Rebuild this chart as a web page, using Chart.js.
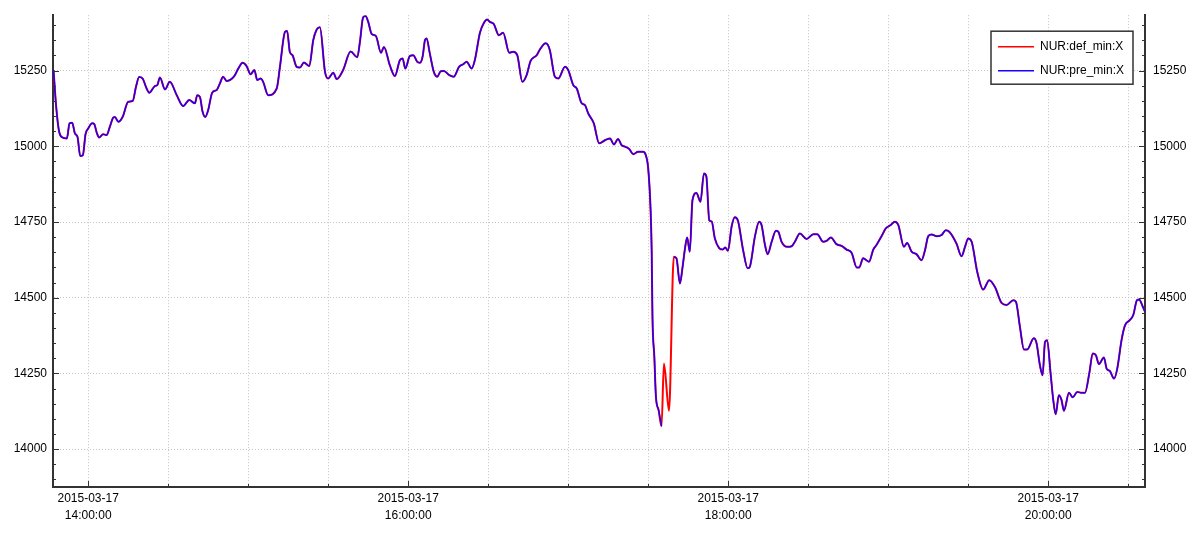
<!DOCTYPE html>
<html><head><meta charset="utf-8">
<script src="https://cdn.jsdelivr.net/npm/chart.js@4"></script>
<style>html,body{margin:0;padding:0;background:#fff;}canvas{display:block;}</style>
</head><body>
<canvas id="c" width="1200" height="534"></canvas>
<script>
// minutes relative to 2015-03-17 14:00:00
const minutes = [
-13,-12,-11,-10,-8,-7,-6,-5,-4,-3,
-2,-1,0,1.5,2.3,3.2,4.1,5.6,6.9,8.1,
9.4,10,11.3,12.9,15,16.7,17.9,19.1,20.4,21.9,
22.9,25,25.9,26.9,28.8,30.6,33.2,35.6,37.9,40,
40.9,41.9,42.9,43.9,45,46.5,48.2,49.4,50.6,51.9,
54.8,56.3,57.9,59.4,60.9,62.3,63.4,64.7,65.6,67.5,
70.7,71.9,73.8,74.6,75.6,76.6,78.2,79.4,80.9,82.9,
84.4,85.7,86.9,88.8,90,91.9,93.2,95.6,98.4,100.9,
101.9,103.1,104,105,106.3,107.9,109.8,110.9,113.1,115,
116.9,117.9,118.9,120.6,121.9,123.4,124.4,125.4,126.3,126.9,
128.1,129.6,130.9,132.2,133.4,135.4,137.1,139.1,140.6,141.9,
143.8,145,146.9,148.4,149.6,150.6,152.1,154,155.6,157.9,
159.4,160.9,162.8,164.4,165.9,168.2,169.4,171.6,173.1,175,
176.3,178.8,180,181.9,183.2,185,186.3,187.5,189.6,191.6,
193.8,195.7,197.1,198.7,200,201.3,202.9,204.4,206.2,208.1,
209.1,210,210.9,211.3,211.6,212.3,212.9,213.9,215,215.9,
217.8,219.6,220.6,221.9,222.9,223.8,224.6,225.6,226.6,228.1,
229.6,230.9,231.8,232.9,233.8,235,236.6,237.9,238.9,239.9,
241.3,242.5,243.7,245.6,247.3,248.1,250,251.6,252.5,253.8,
254.8,256.3,257.9,258.8,260,262.1,263.8,265,266.9,269.4,
271.9,273.4,275.6,276.9,278.5,280.6,282.5,284.4,286.3,288.2,
289.1,290.6,291.5,292.8,294.4,295.6,297.5,299.1,300.9,302.5,
303.8,305.9,307.1,308.8,310.6,312.5,313.8,315,316.3,318.2,
320,321.6,322.9,325.6,327.5,328.8,330,331.3,333.4,335.6,
337.9,340,342.5,344.4,346.9,347.9,349.4,350.9,352.1,354.6,
355.6,356.9,357.9,358.8,359.6,360.9,361.9,362.8,364,365,
365.9,367.8,369.2,370.9,372.5,373.8,375.4,376.7,377.9,379,
380.9,381.9,383.1,384.7,385.9,387.5,388.8,390.6,391.9,393.3,
394.1,395.4,396.6
];
// NUR:pre_min:X (null where only def_min has data)
const preMin = [
15252,15130,15053,15031,15026,15076,15078,15043,15031,14968,
14971,15040,15059,15076,15073,15045,15029,15040,15037,15064,
15095,15097,15081,15097,15147,15150,15196,15229,15224,15191,
15177,15199,15202,15227,15188,15213,15169,15133,15153,15142,
15169,15163,15114,15097,15120,15177,15186,15208,15230,15216,
15232,15257,15276,15265,15238,15252,15219,15224,15213,15169,
15191,15262,15378,15381,15312,15301,15262,15260,15277,15265,
15351,15386,15393,15246,15224,15243,15222,15252,15313,15294,
15345,15426,15430,15411,15371,15364,15309,15328,15268,15232,
15285,15290,15257,15298,15301,15279,15276,15296,15351,15356,
15307,15246,15230,15248,15249,15235,15230,15263,15271,15279,
15257,15285,15375,15408,15419,15411,15404,15367,15375,15309,
15312,15301,15213,15235,15282,15301,15320,15340,15318,15230,
15224,15263,15252,15202,15191,15143,15136,15109,15076,15010,
15020,15026,15006,15024,15004,14999,14991,14974,14982,14982,
14971,14927,14789,14657,14437,14305,14173,14129,14076,null,
null,14635,14630,14547,14602,14663,14699,14652,14822,14846,
14817,14910,14901,14756,14752,14696,14664,14659,14666,14655,
14736,14766,14753,14657,14597,14602,14701,14751,14740,14674,
14644,14685,14721,14718,14685,14668,14670,14685,14712,14694,
14710,14710,14685,14688,14699,14677,14671,14659,14648,14600,
14600,14630,14626,14619,14659,14674,14703,14729,14740,14751,
14740,14668,14681,14652,14644,14624,14657,14703,14709,14703,
14707,14723,14718,14679,14637,14668,14696,14685,14585,14527,
14558,14536,14483,14476,14492,14487,14404,14329,14329,14366,
14351,14277,14244,14354,14360,14250,14162,14115,14178,14162,
14127,14186,14171,14189,14186,14186,14250,14316,14310,14281,
14303,14266,14258,14233,14266,14360,14409,14426,14443,14492,
14494,14472,14448
];
// NUR:def_min:X equals pre_min except where pre_min is missing
const gapMinutes = [215.9, 217.8];
const gapDefValues = [14283, 14127];

const seriesLabels = ['NUR:def_min:X', 'NUR:pre_min:X'];
const dateLabel = '2015-03-17';
const yTicks = [14000, 14250, 14500, 14750, 15000, 15250];
const yMinorTicks = [13900,13950,14050,14100,14150,14200,14300,14350,14400,14450,14550,14600,14650,14700,14800,14850,14900,14950,15050,15100,15150,15200,15300,15350,15400];
const xTicks = [0,30,60,90,120,150,180,210,240,270,300,330,360,390];
const xLabelTicks = [0,120,240,360];

const defMin = preMin.map((v, i) => {
  const g = gapMinutes.indexOf(minutes[i]);
  return g >= 0 ? gapDefValues[g] : v;
});

function timeLabel(m) {
  const h = 14 + Math.floor(m / 60), mm = m % 60;
  return String(h).padStart(2, '0') + ':' + String(mm).padStart(2, '0') + ':00';
}

const axisTicks = {
  id: 'axisTicks',
  afterDraw(chart) {
    const {ctx, chartArea: a, scales: {x, y}} = chart;
    ctx.save();
    ctx.strokeStyle = '#333';
    ctx.lineWidth = 1;
    ctx.beginPath();
    xTicks.forEach(t => {
      const px = Math.round(x.getPixelForValue(t)) + 0.5;
      const len = xLabelTicks.includes(t) ? 6 : 3;
      ctx.moveTo(px, a.bottom); ctx.lineTo(px, a.bottom - len);
    });
    const mark = (v, len) => {
      const py = Math.round(y.getPixelForValue(v)) + 0.5;
      ctx.moveTo(a.left, py); ctx.lineTo(a.left + len, py);
      ctx.moveTo(a.right, py); ctx.lineTo(a.right - len, py);
    };
    yTicks.forEach(v => mark(v, 6));
    yMinorTicks.forEach(v => mark(v, 3));
    ctx.stroke();
    ctx.restore();
  }
};

const boxLegend = {
  id: 'boxLegend',
  afterDraw(chart) {
    const {ctx, chartArea: a} = chart;
    const w = 142, h = 53;
    const x0 = a.right - 12 - w, y0 = a.top + 16;
    ctx.save();
    ctx.fillStyle = '#fff';
    ctx.fillRect(x0, y0, w, h);
    ctx.strokeStyle = '#333';
    ctx.lineWidth = 1.5;
    ctx.strokeRect(x0, y0, w, h);
    ctx.font = '12px "Liberation Sans"';
    ctx.textBaseline = 'middle';
    chart.data.datasets.forEach((ds, i) => {
      const yy = y0 + 15.5 + i * 24;
      ctx.strokeStyle = ds.borderColor;
      ctx.lineWidth = 1.5;
      ctx.beginPath(); ctx.moveTo(x0 + 7, yy); ctx.lineTo(x0 + 43, yy); ctx.stroke();
      ctx.fillStyle = '#000';
      ctx.fillText(ds.label, x0 + 49, yy);
    });
    ctx.restore();
  }
};

Chart.defaults.font.family = '"Liberation Sans", Arial, sans-serif';
Chart.defaults.font.size = 12;
Chart.defaults.color = '#000';

const gridOpts = {color: '#c4c4c4', lineWidth: 1, drawTicks: false};
const borderOpts = {display: true, color: '#333', width: 2, dash: [1, 2]};
const yRange = {min: 13875, max: 15433};

new Chart(document.getElementById('c'), {
  type: 'line',
  data: {
    datasets: [
      {label: seriesLabels[0], data: minutes.map((m, i) => ({x: m, y: defMin[i]})),
       borderColor: '#ff0000', borderWidth: 2, order: 1},
      {label: seriesLabels[1], data: minutes.map((m, i) => ({x: m, y: preMin[i]})),
       borderColor: '#1a00ff', borderWidth: 1.5, order: 0}
    ]
  },
  options: {
    responsive: false,
    animation: false,
    layout: {padding: {top: 15, left: 0, right: 0, bottom: 0}},
    elements: {point: {radius: 0}, line: {cubicInterpolationMode: 'monotone', fill: false}},
    spanGaps: false,
    plugins: {legend: {display: false}, tooltip: {enabled: false}},
    scales: {
      x: {
        type: 'linear', min: -13.2, max: 396.3,
        afterBuildTicks(s) { s.ticks = xTicks.map(v => ({value: v})); },
        afterFit(s) { s.height = 47; },
        grid: gridOpts, border: borderOpts,
        ticks: {autoSkip: false, maxRotation: 0, padding: 3, font: {size: 12, lineHeight: 1.45},
          callback: v => xLabelTicks.includes(v) ? [dateLabel, timeLabel(v)] : ''}
      },
      y: {
        position: 'left', ...yRange,
        afterBuildTicks(s) { s.ticks = yTicks.map(v => ({value: v})); },
        afterFit(s) { s.width = 53; },
        grid: gridOpts, border: borderOpts,
        ticks: {padding: 6, callback: v => String(v)}
      },
      y1: {
        position: 'right', ...yRange,
        afterBuildTicks(s) { s.ticks = yTicks.map(v => ({value: v})); },
        afterFit(s) { s.width = 55; },
        grid: {drawOnChartArea: false, drawTicks: false}, border: borderOpts,
        ticks: {padding: 8, callback: v => String(v)}
      }
    }
  },
  plugins: [axisTicks, boxLegend]
});
</script>
</body></html>
